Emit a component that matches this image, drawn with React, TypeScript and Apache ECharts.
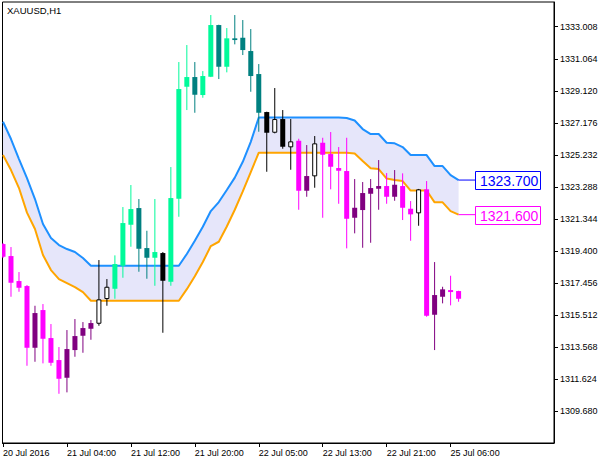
import React, { useEffect, useRef } from "react";
import * as echarts from "echarts";

const chartTitle = "XAUUSD,H1";

// OHLC per hourly bar (bar index 0 = 20 Jul 2016 20:00)
const opens = [
  1319.814, 1319.086, 1317.568, 1317.264, 1313.518, 1315.807, 1314.107, 1312.771, 1311.697, 1313.378,
  1314.247, 1314.672, 1314.975, 1316.475, 1317.1, 1318.497, 1320.986, 1322.0, 1319.571, 1318.983,
  1319.268, 1317.525, 1322.565, 1329.365, 1329.954, 1328.861, 1329.972, 1333.111, 1330.579, 1332.304,
  1332.34, 1331.533, 1330.136, 1327.829, 1326.572, 1327.404, 1325.686, 1326.086, 1323.051, 1323.925,
  1325.965, 1325.279, 1324.429, 1324.247, 1321.411, 1321.879, 1322.868, 1323.172, 1323.336, 1322.686,
  1323.336, 1321.958, 1321.678, 1323.136, 1315.522, 1316.615, 1317.021, 1316.961,
];
const highs = [
  1319.875, 1319.632, 1318.114, 1317.325, 1316.068, 1316.171, 1314.957, 1313.561, 1314.593, 1315.261,
  1315.078, 1315.2, 1318.843, 1317.689, 1319.128, 1322.061, 1323.397, 1322.547, 1320.622, 1322.547,
  1319.329, 1324.489, 1330.865, 1331.897, 1330.865, 1330.318, 1333.718, 1333.13, 1332.929, 1333.718,
  1333.415, 1332.868, 1330.743, 1327.85, 1329.286, 1327.95, 1327.404, 1326.208, 1325.825, 1326.372,
  1326.268, 1326.615, 1325.704, 1326.268, 1323.761, 1323.579, 1323.761, 1324.914, 1324.125, 1324.307,
  1324.107, 1322.425, 1323.16, 1323.639, 1318.721, 1317.222, 1317.89, 1316.98,
];
const lows = [
  1318.964, 1316.615, 1316.918, 1312.425, 1312.668, 1312.571, 1312.425, 1310.725, 1310.81, 1312.972,
  1313.215, 1314.004, 1314.854, 1316.068, 1316.493, 1317.768, 1319.65, 1318.133, 1317.708, 1317.282,
  1314.429, 1317.282, 1321.472, 1327.95, 1327.786, 1328.697, 1329.95, 1329.832, 1330.239, 1331.939,
  1331.29, 1329.061, 1326.633, 1324.204, 1326.536, 1325.601, 1324.326, 1321.897, 1322.686, 1323.233,
  1321.411, 1323.136, 1322.261, 1319.553, 1320.464, 1319.59, 1319.893, 1321.897, 1322.261, 1322.443,
  1321.272, 1320.015, 1320.925, 1315.4, 1313.378, 1316.214, 1316.092, 1316.311,
];
const closes = [
  1319.043, 1317.465, 1317.161, 1313.518, 1315.625, 1314.065, 1312.607, 1311.636, 1313.439, 1314.228,
  1314.714, 1315.018, 1316.457, 1317.222, 1318.6, 1321.089, 1321.939, 1319.529, 1318.983, 1319.329,
  1317.586, 1322.607, 1329.225, 1329.954, 1328.879, 1330.015, 1333.111, 1330.579, 1332.304, 1332.2,
  1331.593, 1330.015, 1327.786, 1326.572, 1327.404, 1325.722, 1326.05, 1323.051, 1323.943, 1325.928,
  1325.236, 1324.508, 1324.265, 1321.35, 1322.018, 1322.911, 1323.214, 1323.336, 1322.686, 1323.415,
  1322.018, 1321.618, 1323.136, 1315.461, 1316.718, 1317.064, 1316.9, 1316.493,
];

// channel indicator
const upperBand = [
  1327.24, 1326.19, 1324.975, 1323.822, 1322.547, 1321.029, 1320.179, 1319.754, 1319.511, 1319.329,
  1318.964, 1318.5, 1318.5, 1318.5, 1318.5, 1318.5, 1318.5, 1318.5, 1318.5, 1318.5,
  1318.5, 1318.5, 1318.5, 1319.213, 1320.015, 1320.865, 1321.818, 1322.364, 1323.093, 1323.846,
  1324.811, 1326.02, 1327.5, 1327.5, 1327.5, 1327.5, 1327.5, 1327.5, 1327.5, 1327.5,
  1327.5, 1327.5, 1327.5, 1327.465, 1327.313, 1326.797, 1326.493, 1326.493, 1325.965, 1325.928,
  1325.704, 1325.218, 1325.218, 1325.218, 1324.55, 1324.55, 1324.004, 1323.7,
];
const lowerBand = [
  1325.218, 1324.307, 1323.214, 1321.721, 1320.725, 1319.146, 1318.236, 1317.689, 1317.446, 1317.204,
  1316.9, 1316.37, 1316.37, 1316.37, 1316.37, 1316.37, 1316.37, 1316.37, 1316.37, 1316.37,
  1316.37, 1316.37, 1316.37, 1317.076, 1317.859, 1318.721, 1319.693, 1319.954, 1320.877, 1321.897,
  1323.008, 1324.186, 1325.36, 1325.36, 1325.36, 1325.36, 1325.36, 1325.36, 1325.36, 1325.36,
  1325.36, 1325.36, 1325.36, 1325.36, 1325.309, 1324.854, 1324.411, 1324.368, 1323.791, 1323.7,
  1323.639, 1323.063, 1323.063, 1323.063, 1322.346, 1322.346, 1321.818, 1321.6,
];

const timeTickIndex = [0, 8, 16, 24, 32, 40, 48, 56];
const timeTickLabels = [
  "20 Jul 2016",
  "21 Jul 04:00",
  "21 Jul 12:00",
  "21 Jul 20:00",
  "22 Jul 05:00",
  "22 Jul 13:00",
  "22 Jul 21:00",
  "25 Jul 06:00",
];
const priceTicks = [
  1309.68, 1311.624, 1313.568, 1315.512, 1317.456, 1319.4, 1321.344, 1323.288, 1325.232, 1327.176,
  1329.12, 1331.064, 1333.008,
];

const FONT = '"Liberation Sans", Arial, sans-serif';
const COL = {
  bullAbove: "#00FA9A",
  bearAbove: "#008080",
  bullBelow: "#800080",
  bearBelow: "#FF00FF",
  inside: "#000000",
  upperLine: "#1E90FF",
  lowerLine: "#FFA500",
  fill: "#E6E6FA",
  tagUpper: "#0000FF",
  tagLower: "#FF00FF",
};

export default function App() {
  const ref = useRef<HTMLDivElement>(null);

  useEffect(() => {
    if (!ref.current) return;
    const chart = echarts.init(ref.current, undefined, { renderer: "svg" });

    const candleData = opens.map((o, i) => [i, o, closes[i], lows[i], highs[i], upperBand[i], lowerBand[i]]);
    const bandData = upperBand.map((u, i) => [i, u, lowerBand[i]]);
    const last = opens.length - 1;
    const tagData = [
      [last, upperBand[last]],
      [last, lowerBand[last]],
    ];

    const option: any = {
      animation: false,
      backgroundColor: "#FFFFFF",
      grid: {
        left: 2,
        top: 2,
        right: 57,
        bottom: 20,
        show: true,
        borderColor: "#000000",
        borderWidth: 1,
        backgroundColor: "#FFFFFF",
        containLabel: false,
      },
      graphic: [
        {
          type: "text",
          left: 7,
          top: 5,
          style: { text: chartTitle, font: `9.5px ${FONT}`, fill: "#000000" },
        },
      ],
      xAxis: {
        type: "value",
        min: -0.0625,
        max: 68.9375,
        axisLine: { show: true, onZero: false, lineStyle: { color: "#000000", width: 1 } },
        axisTick: {
          show: true,
          length: 4,
          customValues: timeTickIndex,
          lineStyle: { color: "#000000" },
        },
        axisLabel: {
          show: true,
          customValues: timeTickIndex,
          align: "left",
          margin: 5,
          fontSize: 9,
          fontFamily: FONT,
          color: "#000000",
          formatter: (v: number) => {
            const k = timeTickIndex.indexOf(Math.round(v));
            return k >= 0 ? timeTickLabels[k] : "";
          },
        },
        splitLine: { show: false },
      },
      yAxis: {
        type: "value",
        position: "right",
        min: 1307.736,
        max: 1334.51,
        axisLine: { show: true, onZero: false, lineStyle: { color: "#000000", width: 1 } },
        axisTick: {
          show: true,
          length: 4,
          customValues: priceTicks,
          lineStyle: { color: "#000000" },
        },
        axisLabel: {
          show: true,
          customValues: priceTicks,
          margin: 6,
          fontSize: 9,
          fontFamily: FONT,
          color: "#000000",
          formatter: (v: number) => v.toFixed(3),
        },
        splitLine: { show: false },
      },
      series: [
        {
          type: "custom",
          name: "bandFill",
          silent: true,
          clip: true,
          z: 1,
          data: bandData,
          encode: { x: 0, y: [1, 2] },
          renderItem: (params: any, api: any) => {
            if (params.dataIndex !== 0) return null;
            const top = upperBand.map((u, i) => api.coord([i, u]));
            const bottom = lowerBand.map((l, i) => api.coord([i, l])).reverse();
            return {
              type: "polygon",
              shape: { points: top.concat(bottom) },
              style: { fill: COL.fill, stroke: "none" },
            };
          },
        },
        {
          type: "line",
          name: "upper",
          data: upperBand.map((v, i) => [i, v]),
          showSymbol: false,
          silent: true,
          lineStyle: { color: COL.upperLine, width: 2 },
          z: 2,
        },
        {
          type: "line",
          name: "lower",
          data: lowerBand.map((v, i) => [i, v]),
          showSymbol: false,
          silent: true,
          lineStyle: { color: COL.lowerLine, width: 2 },
          z: 2,
        },
        {
          type: "custom",
          name: "candles",
          clip: true,
          z: 3,
          data: candleData,
          encode: { x: 0, y: [1, 2, 3, 4] },
          renderItem: (params: any, api: any) => {
            const i = api.value(0);
            const o = api.value(1);
            const c = api.value(2);
            const l = api.value(3);
            const h = api.value(4);
            const up = api.value(5);
            const lo = api.value(6);
            const pO = api.coord([i, o]);
            const pC = api.coord([i, c]);
            const pL = api.coord([i, l]);
            const pH = api.coord([i, h]);
            const x = pO[0];
            const bull = c >= o;
            const zone = c > up ? 1 : c < lo ? -1 : 0;
            let color = COL.inside;
            if (zone === 1) color = bull ? COL.bullAbove : COL.bearAbove;
            else if (zone === -1) color = bull ? COL.bullBelow : COL.bearBelow;
            const hollow = zone === 0 && bull;
            const yTop = Math.min(pO[1], pC[1]);
            const yBot = Math.max(pO[1], pC[1]);
            const bodyH = Math.max(yBot - yTop, 1);
            const children: any[] = [
              {
                type: "line",
                shape: { x1: x, y1: pH[1], x2: x, y2: pL[1] },
                style: { stroke: color, lineWidth: 1 },
              },
            ];
            if (hollow) {
              children.push({
                type: "rect",
                shape: { x: x - 2, y: yTop + 0.5, width: 4, height: Math.max(bodyH - 1, 1) },
                style: { fill: "#FFFFFF", stroke: "#000000", lineWidth: 1 },
              });
            } else {
              children.push({
                type: "rect",
                shape: { x: x - 2.5, y: yTop, width: 5, height: bodyH },
                style: { fill: color },
              });
            }
            return { type: "group", children };
          },
        },
        {
          type: "custom",
          name: "tags",
          clip: false,
          z: 4,
          data: tagData,
          encode: { x: 0, y: 1 },
          renderItem: (params: any, api: any) => {
            const i = api.value(0);
            const v = api.value(1);
            const p = api.coord([i, v]);
            const color = params.dataIndex === 0 ? COL.tagUpper : COL.tagLower;
            const bx = Math.round(p[0] + 16) + 0.5;
            const by = Math.round(p[1] - 9) + 0.5;
            return {
              type: "group",
              children: [
                {
                  type: "line",
                  shape: { x1: p[0], y1: p[1], x2: bx, y2: p[1] },
                  style: { stroke: color, lineWidth: 1 },
                },
                {
                  type: "rect",
                  shape: { x: bx, y: by, width: 65, height: 18 },
                  style: { fill: "#FFFFFF", stroke: color, lineWidth: 1 },
                },
                {
                  type: "text",
                  x: bx + 4.5,
                  y: by + 9.5,
                  style: {
                    text: v.toFixed(3),
                    font: `14px ${FONT}`,
                    fill: color,
                    align: "left",
                    verticalAlign: "middle",
                    textAlign: "left",
                    textVerticalAlign: "middle",
                  },
                },
              ],
            };
          },
        },
      ],
    };

    chart.setOption(option);
    return () => {
      chart.dispose();
    };
  }, []);

  return (
    <div
      ref={ref}
      style={{ position: "fixed", left: 0, top: 0, width: 611, height: 463, background: "#FFFFFF" }}
    />
  );
}
